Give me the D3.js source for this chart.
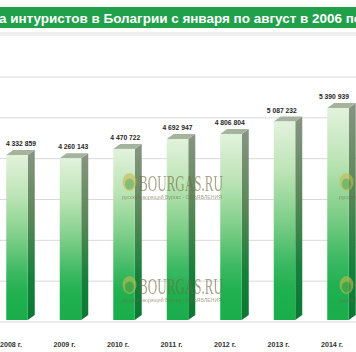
<!DOCTYPE html>
<html><head><meta charset="utf-8">
<script src="https://cdn.jsdelivr.net/npm/d3@7"></script>
<style>html,body{margin:0;padding:0;background:#fff;overflow:hidden}svg{display:block}</style>
</head><body>
<script>
const title = "а интуристов в Болагрии с января по август в 2006 по";
const years = ["2008 г.", "2009 г.", "2010 г.", "2011 г.", "2012 г.", "2013 г.", "2014 г."];
const values = [4332859, 4260143, 4470722, 4692947, 4806804, 5087232, 5390939];
const gridValues = [0, 1e6, 2e6, 3e6, 4e6, 5e6, 6e6];
const watermarkText = "BOURGAS.RU";
const watermarkSub = "русскоговорящий Бургас - ОБЪЯВЛЕНИЯ";

const W = 356, H = 352;
const svg = d3.select("body").append("svg").attr("width", W).attr("height", H);
const defs = svg.append("defs");

const gFront = defs.append("linearGradient").attr("id","gFront").attr("x1",0).attr("y1",0).attr("x2",0).attr("y2",1);
[[0,"#e2f2dc"],[0.25,"#bce4b5"],[0.5,"#7ece88"],[0.72,"#3ab861"],[0.85,"#1fb04f"],[1,"#1bac4b"]]
  .forEach(([o,c])=>gFront.append("stop").attr("offset",o).attr("stop-color",c));
const gSide = defs.append("linearGradient").attr("id","gSide").attr("x1",0).attr("y1",0).attr("x2",0).attr("y2",1);
[[0,"#879582"],[0.4,"#5a8757"],[0.75,"#15803b"],[1,"#0a7832"]]
  .forEach(([o,c])=>gSide.append("stop").attr("offset",o).attr("stop-color",c));

// back wall scale (gridlines) and front-plane scale (bars, perspective)
const wallY = d3.scaleLinear().domain([0, 6e6]).range([322, 77]);
const frontY = d3.scaleLinear().domain([0, 6e6]).range([347.4, 81]);
const x = d3.scalePoint().domain(years).range([17, 338]);
const labelShift = d3.scaleLinear().domain([0, years.length - 1]).range([4, -4]);
const halfW = 10.75, depth = 7, rise = 5, floorY = 320;

// title band
svg.append("rect").attr("x",0).attr("y",7).attr("width",W).attr("height",21).attr("fill","#21a04b");
svg.append("text").attr("x",-1).attr("y",23).attr("fill","#fff")
  .attr("font-family","Liberation Sans, Arial, sans-serif").attr("font-weight","bold").attr("font-size",13)
  .attr("textLength",363).attr("lengthAdjust","spacingAndGlyphs").text(title);
svg.append("rect").attr("x",0).attr("y",32).attr("width",W).attr("height",4).attr("fill","#efefef");

// gridlines
svg.append("g").selectAll("line").data(gridValues).join("line")
  .attr("x1",0).attr("x2",W).attr("y1",d=>wallY(d)).attr("y2",d=>wallY(d))
  .attr("stroke","#d9d9d9").attr("stroke-width",1);

// bars
const data = years.map((y,i)=>({year:y, v:values[i], i}));
const bars = svg.append("g").selectAll("g").data(data).join("g");
bars.append("path").attr("fill","url(#gSide)").attr("d", d=>{
  const xr = x(d.year)+halfW, t = frontY(d.v);
  return `M${xr},${t}L${xr+depth},${t-rise}L${xr+depth},${floorY-rise}L${xr},${floorY}Z`;
});
bars.append("path").attr("fill","#a3b39c").attr("d", d=>{
  const xl = x(d.year)-halfW, xr = x(d.year)+halfW, t = frontY(d.v);
  return `M${xl},${t}L${xl+depth},${t-rise}L${xr+depth},${t-rise}L${xr},${t}Z`;
});
bars.append("rect").attr("fill","url(#gFront)")
  .attr("x", d=>x(d.year)-halfW).attr("width", halfW*2)
  .attr("y", d=>frontY(d.v)).attr("height", d=>floorY-frontY(d.v));

// value labels
const fmt = d3.formatLocale({decimal:",", thousands:" ", grouping:[3], currency:["",""]}).format(",d");
svg.append("g").selectAll("text").data(data).join("text")
  .attr("x", d=>x(d.year)+labelShift(d.i)).attr("y", d=>frontY(d.v)-9)
  .attr("text-anchor","middle").attr("font-family","Liberation Sans, Arial, sans-serif")
  .attr("font-weight","bold").attr("font-size",8).attr("fill","#262626")
  .attr("textLength",30).attr("lengthAdjust","spacingAndGlyphs")
  .text(d=>fmt(d.v));

// category labels
svg.append("g").selectAll("text").data(data).join("text")
  .attr("x", d=>x(d.year)-6).attr("y", 347)
  .attr("text-anchor","middle").attr("font-family","Liberation Sans, Arial, sans-serif")
  .attr("font-weight","bold").attr("font-size",8).attr("fill","#333")
  .attr("textLength",22).attr("lengthAdjust","spacingAndGlyphs")
  .text(d=>d.year);

// watermarks
const marks = [[122,0],[339,0],[122,103],[339,103]];
const wm = svg.append("g").attr("opacity",0.6).selectAll("g").data(marks).join("g")
  .attr("transform", d=>`translate(${d[0]},${d[1]})`);
wm.append("ellipse").attr("cx",7.5).attr("cy",182).attr("rx",7).attr("ry",9).attr("fill","#c8b94c");
wm.append("ellipse").attr("cx",7.5).attr("cy",184).attr("rx",4.5).attr("ry",5.5).attr("fill","#5aa04a");
wm.append("text").attr("x",17).attr("y",191).attr("font-family","Liberation Serif, serif")
  .attr("font-size",24).attr("fill","#6f6a40").attr("textLength",84).attr("lengthAdjust","spacingAndGlyphs")
  .text(watermarkText);
wm.append("text").attr("x",0).attr("y",199).attr("font-family","Liberation Sans, sans-serif")
  .attr("font-size",4.5).attr("fill","#6f6a40").attr("textLength",100).attr("lengthAdjust","spacingAndGlyphs")
  .text(watermarkSub);
</script>
</body></html>
